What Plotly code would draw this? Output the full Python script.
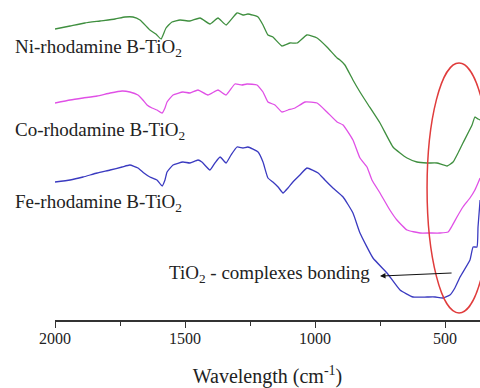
import plotly.graph_objects as go

# Wavenumber (cm^-1) and transmittance (a.u., offset stacked)
ni_wn = [2000,1942,1885,1827,1769,1731,1700,1673,1635,1612,1592,1573,1550,1519,1481,1442,1404,1373,1342,1300,
         1277,1258,1219,1200,1181,1162,1127,1096,1069,1031,992,954,915,904,885,854,827,800,750,700,
         673,646,608,569,531,492,469,450,431,396,385,373,365]
ni_t = [291,294,297,299,301,303,303,300,290,286,281,292,298,300,299,302,296,302,295,307,
        305,306,303,295,285,283,274,277,277,285,282,273,262,260,255,240,228,217,197,173,
        167,162,158,157,157,154,158,167,177,195,203,201,200]

co_wn = [2000,1942,1892,1838,1788,1742,1712,1681,1662,1646,1627,1608,1588,1577,1569,1546,1508,1481,1450,1412,
         1373,1342,1308,1281,1262,1223,1200,1181,1154,1127,1104,1077,1038,992,954,915,892,854,827,800,
         781,750,712,685,646,596,558,519,488,473,454,431,404,385,373,365]
co_t = [217,220,222,224,227,229,228,225,220,215,212,210,207,212,218,225,228,227,230,225,
        230,225,236,235,236,235,228,218,215,208,210,212,218,217,208,198,195,180,162,153,
        140,127,110,100,90,87,87,87,88,94,103,113,122,130,137,142]

fe_wn = [2000,1942,1892,1838,1788,1742,1712,1681,1658,1635,1608,1588,1577,1569,1546,1508,1481,1450,1435,1404,
         1385,1365,1342,1323,1300,1277,1258,1219,1200,1181,1162,1142,1123,1104,1085,1058,1031,988,962,931,
         892,854,827,777,723,673,623,569,538,508,481,462,442,404,392,377,373,365]
fe_t = [138,140,143,147,150,153,155,152,147,143,140,134,140,148,155,158,157,160,158,150,
        157,163,157,165,173,172,173,168,158,142,138,133,127,132,138,145,152,147,140,132,
        123,107,87,62,47,30,23,23,23,22,25,32,43,60,73,73,93,120]

x_ticks = [2000, 1500, 1000, 500]
labels = ["Ni-rhodamine B-TiO<sub>2</sub>", "Co-rhodamine B-TiO<sub>2</sub>", "Fe-rhodamine B-TiO<sub>2</sub>"]
label_t = [272, 189, 117]

SERIF = "Liberation Serif"
fig = go.Figure()
for wn, t, c in [(ni_wn, ni_t, "#3f8f3f"), (co_wn, co_t, "#e050e6"), (fe_wn, fe_t, "#3a3ac0")]:
    fig.add_trace(go.Scatter(x=wn, y=t, mode="lines", line=dict(color=c, width=1.3, shape="spline", smoothing=0.4),
                             showlegend=False, hoverinfo="skip"))

for txt, ty in zip(labels, label_t):
    fig.add_annotation(text=txt, xref="paper", yref="y", x=-0.099, y=ty, xanchor="left", yanchor="middle",
                       showarrow=False, font=dict(family=SERIF, size=19, color="#222"))

fig.add_annotation(text="TiO<sub>2</sub> - complexes bonding", xref="x", yref="y", x=1569, y=46,
                   xanchor="left", yanchor="middle", showarrow=False,
                   font=dict(family=SERIF, size=19, color="#222"))
fig.add_annotation(text="", xref="x", yref="y", x=750, y=44, axref="x", ayref="y", ax=469, ay=47,
                   showarrow=True, arrowhead=2, arrowsize=1, arrowwidth=1.1, arrowcolor="#111")

fig.add_shape(type="circle", xref="x", yref="y", x0=569, x1=323, y0=7, y1=257,
              line=dict(color="#e03c3c", width=1.5))

fig.update_xaxes(range=[2000, 365.4], tickvals=x_ticks, ticks="outside", ticklen=6, tickwidth=1.2,
                 tickcolor="#333", showline=True, linecolor="#333", linewidth=1.5, showgrid=False, zeroline=False,
                 minor=dict(ticks="outside", ticklen=4, tickwidth=1, tickcolor="#333", dtick=250, tick0=2000),
                 tickfont=dict(family=SERIF, size=16, color="#222"), ticklabelstandoff=-3,
                 title=dict(text="Wavelength (cm<sup>-1</sup>)", font=dict(family=SERIF, size=20, color="#222"),
                            standoff=23))
fig.update_yaxes(range=[0, 320], visible=False)
fig.update_layout(width=480, height=388, margin=dict(l=55, r=0, t=0, b=68),
                  plot_bgcolor="white", paper_bgcolor="white")
fig.write_html("out.html")
